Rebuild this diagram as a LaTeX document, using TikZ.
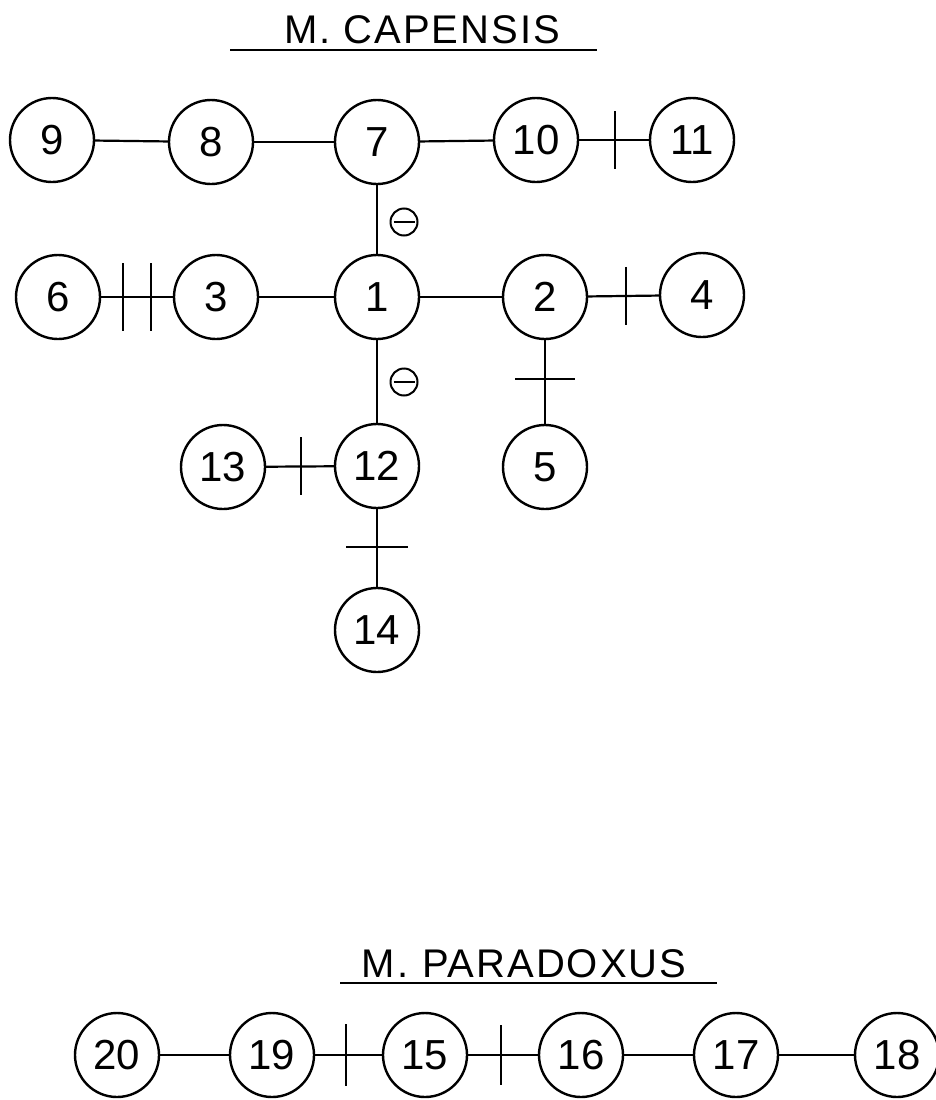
\documentclass[tikz,border=0pt]{standalone}
\usepackage{fontspec}
\setmainfont{Liberation Sans}
\begin{document}
\begin{tikzpicture}[x=1pt,y=-1pt,
  st/.style={circle, draw, line width=2.4pt, minimum size=84pt, inner sep=0pt, font=\fontsize{42}{42}\selectfont},
  link/.style={line width=2.2pt},
  tickl/.style={line width=2pt},
  signc/.style={circle, draw, line width=2pt, minimum size=27pt, inner sep=0pt,
    path picture={\draw[line width=2pt] ([xshift=3pt]path picture bounding box.west) -- ([xshift=-3pt]path picture bounding box.east);}},
  ttl/.style={font=\fontsize{40}{40}\selectfont\addfontfeatures{LetterSpace=5}, inner sep=0pt, anchor=base}]
\useasboundingbox (0,0) rectangle (936,1100);

% titles
\node[ttl] (tc) at (422,43) {M. CAPENSIS};
\coordinate (ucl) at (230,50); \coordinate (ucr) at (597,50);
\draw[link] (ucl) -- (ucr);
\node[ttl] (tp) at (524,977) {M.\hspace{14pt}PARADOXUS};
\coordinate (upl) at (340,983); \coordinate (upr) at (717,983);
\draw[link] (upl) -- (upr);

% M. capensis nodes
\node[st] (n9)  at (52,140)  {9};
\node[st] (n8)  at (211,142) {8};
\node[st] (n7)  at (377,142) {7};
\node[st] (n10) at (536,140) {10};
\node[st] (n11) at (692,140) {11};
\node[st] (n6)  at (58,297)  {6};
\node[st] (n3)  at (216,297) {3};
\node[st] (n1)  at (377,297) {1};
\node[st] (n2)  at (545,297) {2};
\node[st] (n4)  at (702,295) {4};
\node[st] (n13) at (223,467) {13};
\node[st] (n12) at (377,466) {12};
\node[st] (n5)  at (545,467) {5};
\node[st] (n14) at (377,630) {14};

% M. paradoxus nodes
\node[st] (n20) at (117,1055) {20};
\node[st] (n19) at (272,1055) {19};
\node[st] (n15) at (425,1055) {15};
\node[st] (n16) at (581,1055) {16};
\node[st] (n17) at (736,1055) {17};
\node[st] (n18) at (897,1055) {18};

% edges
\draw[link] (n9) -- (n8);
\draw[link] (n8) -- (n7);
\draw[link] (n7) -- (n10);
\draw[link] (n10) -- coordinate[pos=0.52] (t1011) (n11);
\draw[link] (n7) -- (n1);
\draw[link] (n6) -- coordinate[pos=0.3] (t63a) coordinate[pos=0.69] (t63b) (n3);
\draw[link] (n3) -- (n1);
\draw[link] (n1) -- (n2);
\draw[link] (n2) -- coordinate[pos=0.54] (t24) (n4);
\draw[link] (n1) -- (n12);
\draw[link] (n2) -- coordinate[pos=0.47] (t25) (n5);
\draw[link] (n13) -- coordinate[pos=0.52] (t1312) (n12);
\draw[link] (n12) -- coordinate[pos=0.49] (t1214) (n14);
\draw[link] (n20) -- (n19);
\draw[link] (n19) -- coordinate[pos=0.46] (t1915) (n15);
\draw[link] (n15) -- coordinate[pos=0.47] (t1516) (n16);
\draw[link] (n16) -- (n17);
\draw[link] (n17) -- (n18);

% cross ticks
\draw[tickl] ([yshift=29pt]t1011) -- ([yshift=-29pt]t1011);
\draw[tickl] ([yshift=34pt]t63a) -- ([yshift=-34pt]t63a);
\draw[tickl] ([yshift=34pt]t63b) -- ([yshift=-34pt]t63b);
\draw[tickl] ([yshift=29pt]t24) -- ([yshift=-29pt]t24);
\draw[tickl] ([xshift=-30pt]t25) -- ([xshift=30pt]t25);
\draw[tickl] ([yshift=29pt]t1312) -- ([yshift=-29pt]t1312);
\draw[tickl] ([xshift=-31pt]t1214) -- ([xshift=31pt]t1214);
\draw[tickl] ([yshift=31pt]t1915) -- ([yshift=-31pt]t1915);
\draw[tickl] ([yshift=30pt]t1516) -- ([yshift=-30pt]t1516);

% minus signs
\node[signc] (s71) at (404,222) {};
\node[signc] (s112) at (404,382) {};
\end{tikzpicture}
\end{document}
